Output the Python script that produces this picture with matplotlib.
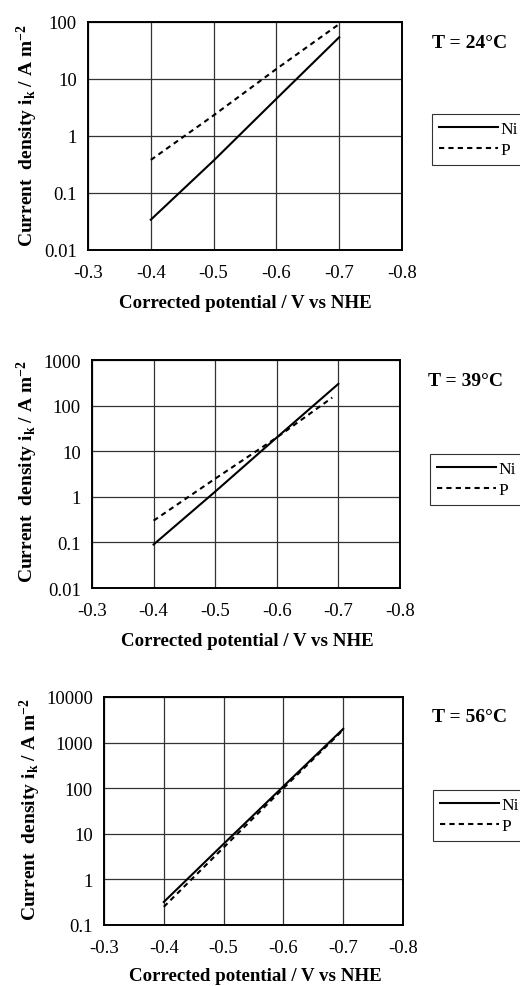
import matplotlib
matplotlib.use("Agg")
import matplotlib.pyplot as plt
import numpy as np

plt.rcParams['font.family'] = ['Liberation Serif', 'DejaVu Serif']
plt.rcParams['mathtext.fontset'] = 'custom'
plt.rcParams['mathtext.rm'] = 'Liberation Serif:bold'
plt.rcParams['mathtext.it'] = 'Liberation Serif:bold'
plt.rcParams['mathtext.bf'] = 'Liberation Serif:bold'

potential = [-0.4, -0.5, -0.6, -0.7]

# T = 24 C
ni_24 = [0.034, 0.37, 4.5, 54]
p_24 = [0.38, 2.3, 15, 92]
# T = 39 C
ni_39 = [0.09, 1.3, 20, 300]
p_39_x = [-0.4, -0.5, -0.6, -0.69]
p_39 = [0.3, 2.5, 20, 150]
# T = 56 C
ni_56 = [0.32, 6.0, 110, 2000]
p_56 = [0.25, 5.0, 100, 1900]

titles = ["T = 24°C", "T = 39°C", "T = 56°C"]
ylims = [(0.01, 100), (0.01, 1000), (0.1, 10000)]
xticks = [-0.3, -0.4, -0.5, -0.6, -0.7, -0.8]

W, H = 520, 987
fig = plt.figure(figsize=(W / 100, H / 100), dpi=100)

panels = [
    dict(ax=(88, 23, 402, 251), leg=(432, 115), title=(432, 43), xlab=(245, 304), ylab=(27, 136),
         ni=(potential, ni_24), p=(potential, p_24)),
    dict(ax=(92, 361, 400, 589), leg=(430, 455), title=(428, 382), xlab=(247, 642), ylab=(27, 472),
         ni=(potential, ni_39), p=(p_39_x, p_39)),
    dict(ax=(104, 698, 403, 926), leg=(433, 791), title=(432, 718), xlab=(255, 977), ylab=(30, 810),
         ni=(potential, ni_56), p=(potential, p_56)),
]

for i, pn in enumerate(panels):
    l, t, r, b = pn['ax']
    ax = fig.add_axes([l / W, 1 - b / H, (r - l) / W, (b - t) / H])
    ax.set_yscale('log')
    ax.set_xlim(-0.3, -0.8)
    ax.set_ylim(*ylims[i])
    ax.set_xticks(xticks)
    ax.set_xticklabels([f"{v:.1f}" for v in xticks])
    lo, hi = ylims[i]
    yt = [10.0 ** k for k in range(int(round(np.log10(lo))), int(round(np.log10(hi))) + 1)]
    ax.set_yticks(yt)
    ax.set_yticklabels([("%g" % v) for v in yt])
    ax.minorticks_off()
    ax.tick_params(length=0, labelsize=13.5)
    ax.tick_params(axis='x', pad=10)
    ax.tick_params(axis='y', pad=8)
    ax.grid(True, color='#333333', linewidth=0.9)
    ax.set_axisbelow(True)
    for s in ax.spines.values():
        s.set_linewidth(1.4)
        s.set_color('black')
    ln1, = ax.plot(pn['ni'][0], pn['ni'][1], color='black', lw=1.5, linestyle='-', label='Ni')
    ln2, = ax.plot(pn['p'][0], pn['p'][1], color='black', lw=1.5, linestyle=(0, (2.5, 2)), label='P')
    lx, ly = pn['leg']
    leg = fig.legend(handles=[ln1, ln2], loc='upper left', bbox_to_anchor=(lx / W, 1 - ly / H),
                     frameon=True, fancybox=False, shadow=False, fontsize=12.5,
                     handlelength=3.45, handletextpad=0.1, borderpad=0.38, borderaxespad=0,
                     labelspacing=0.32)
    leg.get_frame().set_edgecolor('black')
    leg.get_frame().set_linewidth(0.8)
    tx, ty = pn['title']
    fig.text(tx / W, 1 - ty / H, titles[i], fontsize=14, fontweight='bold', ha='left', va='center')
    xx, xy = pn['xlab']
    fig.text(xx / W, 1 - xy / H, "Corrected potential / V vs NHE", fontsize=13.6, fontweight='bold',
             ha='center', va='center')
    yx, yy = pn['ylab']
    fig.text(yx / W, 1 - yy / H, "Current  density i$_{\\mathrm{k}}$ / A m$^{\\mathrm{-2}}$", fontsize=14,
             fontweight='bold', rotation=90, ha='center', va='center')

fig.savefig("out.png", dpi=100)
